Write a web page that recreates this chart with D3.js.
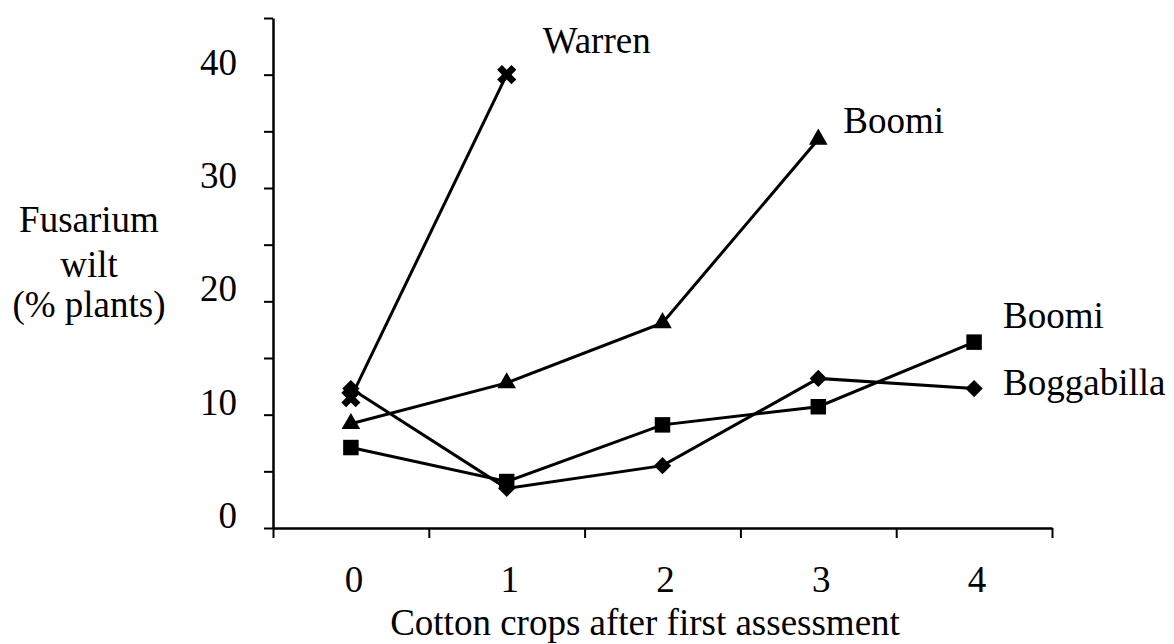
<!DOCTYPE html>
<html>
<head>
<meta charset="utf-8">
<script src="https://cdn.jsdelivr.net/npm/d3@7"></script>
<style>
  body { margin: 0; background: #fff; }
</style>
</head>
<body>
<svg id="chart" width="1174" height="644"></svg>
<script>
// crops after first assessment
const crops = [0, 1, 2, 3, 4];
const yTicks = [0, 5, 10, 15, 20, 25, 30, 35, 40, 45];
const yLabels = [0, 10, 20, 30, 40];

// % plants with fusarium wilt
const warren = [11.5, 40.0];
const boomiTri = [9.2, 12.8, 18.1, 34.3];
const boomiSq = [7.1, 4.1, 9.1, 10.7, 16.4];
const boggabilla = [12.3, 3.5, 5.5, 13.2, 12.3];

const series = [
  { name: "Warren", values: warren, symbol: "x", lab: [36, -22] },
  { name: "Boomi", values: boomiTri, symbol: "tri", lab: [25, -6] },
  { name: "Boomi", values: boomiSq, symbol: "sq", lab: [29, -14] },
  { name: "Boggabilla", values: boggabilla, symbol: "dia", lab: [29, 6] }
];

// pick the first serif face that is really installed
function hasFont(name) {
  const ctx = document.createElement("canvas").getContext("2d");
  const s = "Boggabilla mwWi 0123";
  return ["monospace", "sans-serif"].every(base => {
    ctx.font = `72px ${base}`;
    const w0 = ctx.measureText(s).width;
    ctx.font = `72px "${name}", ${base}`;
    return ctx.measureText(s).width !== w0;
  });
}
const candidates = ["Liberation Serif", "Tinos", "Times New Roman", "DejaVu Serif", "Noto Serif", "FreeSerif"];
const found = candidates.find(hasFont);
const FONT = found ? `"${found}", serif` : "serif";

const svg = d3.select("#chart")
  .style("font-family", FONT);

const x = d3.scaleLinear().domain([-0.5, 4.5]).range([273, 1052]);
const y = d3.scaleLinear().domain([0, 45]).range([528, 18]);

// y axis
const yAxis = svg.append("g")
  .attr("transform", `translate(${x(-0.5)},0)`)
  .call(d3.axisLeft(y).tickValues(yTicks).tickSize(9).tickSizeOuter(0).tickFormat(""));
yAxis.select(".domain").attr("stroke-width", 2.5);
yAxis.selectAll(".tick line").attr("stroke-width", 2);

svg.append("g").selectAll("text")
  .data(yLabels)
  .join("text")
  .attr("x", 237)
  .attr("y", d => y(d))
  .attr("text-anchor", "end")
  .style("font-family", FONT)
  .style("font-size", "37px")
  .text(d => d);

// x axis: ticks at category boundaries, labels at centres
const xAxis = svg.append("g")
  .attr("transform", `translate(0,${y(0)})`)
  .call(d3.axisBottom(x).tickValues([-0.5, 0.5, 1.5, 2.5, 3.5, 4.5]).tickSize(10).tickSizeOuter(0).tickFormat(""));
xAxis.select(".domain").attr("stroke-width", 2.5);
xAxis.selectAll(".tick line").attr("stroke-width", 2);

svg.append("g").selectAll("text")
  .data(crops)
  .join("text")
  .attr("x", d => x(d) + 3)
  .attr("y", 592)
  .attr("text-anchor", "middle")
  .style("font-family", FONT)
  .style("font-size", "37px")
  .text(d => d);

svg.append("text")
  .attr("x", 645)
  .attr("y", 635)
  .attr("text-anchor", "middle")
  .style("font-family", FONT)
  .style("font-size", "37px")
  .text("Cotton crops after first assessment");

// y title
svg.append("text")
  .attr("text-anchor", "middle")
  .style("font-family", FONT)
  .style("font-size", "37px")
  .selectAll("tspan")
  .data([["Fusarium", 232], ["wilt", 277], ["(% plants)", 317]])
  .join("tspan")
  .attr("x", 89)
  .attr("y", d => d[1])
  .text(d => d[0]);

// lines
const line = d3.line()
  .x((d, i) => x(crops[i]))
  .y(d => y(d));

const symbols = {
  x: { type: d3.symbolCross, size: 230, rot: 45 },
  tri: { type: d3.symbolTriangle, size: 150, rot: 0 },
  sq: { type: d3.symbolSquare, size: 240, rot: 0 },
  dia: { type: d3.symbolSquare, size: 150, rot: 45 }
};

series.forEach(s => {
  const g = svg.append("g");
  g.append("path")
    .datum(s.values)
    .attr("d", line)
    .attr("fill", "none")
    .attr("stroke", "#000")
    .attr("stroke-width", 3);

  const sym = symbols[s.symbol];
  g.selectAll(".m")
    .data(s.values)
    .join("path")
    .attr("class", "m")
    .attr("d", d3.symbol().type(sym.type).size(sym.size))
    .attr("transform", (d, i) => `translate(${x(crops[i])},${y(d)}) rotate(${sym.rot})`)
    .attr("fill", "#000");

  const last = s.values.length - 1;
  g.append("text")
    .attr("x", x(crops[last]) + s.lab[0])
    .attr("y", y(s.values[last]) + s.lab[1])
    .style("font-family", FONT)
    .style("font-size", "37px")
    .text(s.name);
});
</script>
</body>
</html>
